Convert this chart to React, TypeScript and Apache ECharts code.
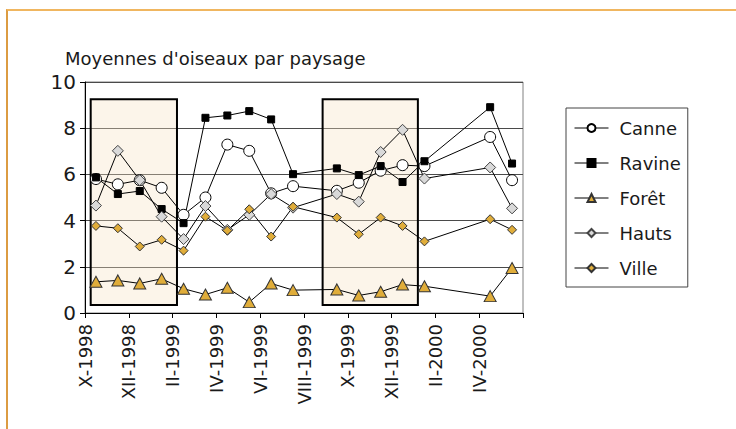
import React, { useEffect, useRef } from "react";
import * as echarts from "echarts";

const sampleMonths = [
  "1998-10", "1998-11", "1998-12", "1999-01", "1999-02", "1999-03", "1999-04",
  "1999-05", "1999-06", "1999-07", "1999-09", "1999-10", "1999-11", "1999-12",
  "2000-01", "2000-04", "2000-05",
];

const canne = [5.8, 5.57, 5.75, 5.42, 4.25, 5.0, 7.29, 7.02, 5.18, 5.49, 5.29, 5.64, 6.16, 6.4, 6.36, 7.62, 5.75];
const ravine = [5.87, 5.15, 5.28, 4.5, 3.89, 8.45, 8.55, 8.74, 8.38, 6.01, 6.26, 5.97, 6.36, 5.67, 6.57, 8.91, 6.47];
const foret = [1.35, 1.41, 1.28, 1.48, 1.05, 0.8, 1.09, 0.47, 1.28, 0.99, 1.02, 0.76, 0.92, 1.23, 1.16, 0.73, 1.95];
const hauts = [4.65, 7.02, 5.75, 4.17, 3.2, 4.63, 3.6, 4.25, 5.15, 4.56, 5.15, 4.82, 6.97, 7.93, 5.82, 6.3, 4.53];
const ville = [3.77, 3.67, 2.88, 3.17, 2.7, 4.17, 3.57, 4.49, 3.31, 4.6, 4.13, 3.41, 4.13, 3.77, 3.1, 4.06, 3.6];

const tickLabels = [
  "X-1998", "XII-1998", "II-1999", "IV-1999", "VI-1999", "VIII-1999",
  "X-1999", "XII-1999", "II-2000", "IV-2000", "",
];

// highlighted periods (month offsets from X-1998, value range)
const highlightPeriods = [
  { from: 0.26, to: 4.2, low: 0.35, high: 9.25 },
  { from: 10.85, to: 15.2, low: 0.35, high: 9.25 },
];

const title = "Moyennes d'oiseaux par paysage";
const FONT = "DejaVu Sans";
const GOLD = "#E0AD3A";
const TEXT = "#1a1a1a";

function monthIndex(s: string): number {
  const [y, m] = s.split("-").map(Number);
  return (y - 1998) * 12 + (m - 10) + 0.5;
}

function pts(vals: number[]) {
  return vals.map((v, i) => [monthIndex(sampleMonths[i]), v]);
}

export default function App() {
  const ref = useRef<HTMLDivElement>(null);
  useEffect(() => {
    if (!ref.current) return;
    const chart = echarts.init(ref.current, null, { renderer: "svg" });
    const lineStyle = { color: "#000", width: 1 };
    chart.setOption({
      animation: false,
      textStyle: { fontFamily: FONT },
      title: {
        text: title,
        left: 60,
        top: 44,
        textStyle: { fontFamily: FONT, fontSize: 18, fontWeight: "normal", color: TEXT },
      },
      grid: {
        left: 85,
        top: 82,
        right: 213,
        bottom: 116,
        show: true,
        borderColor: "#808080",
        borderWidth: 1,
        backgroundColor: "transparent",
      },
      legend: {
        orient: "vertical",
        left: 566,
        top: 108,
        padding: [10, 7, 9, 8],
        itemWidth: 34,
        itemHeight: 10,
        itemGap: 15,
        borderColor: "#444",
        borderWidth: 1,
        lineStyle: { width: 1, color: "#000" },
        textStyle: { fontFamily: FONT, fontSize: 18, color: TEXT, lineHeight: 20, padding: [0, 0, 0, 6] },
        data: ["Canne", "Ravine", "Forêt", "Hauts", "Ville"],
      },
      xAxis: {
        type: "value",
        min: 0,
        max: 20,
        interval: 2,
        axisLine: { show: true, onZero: false, lineStyle: { color: "#000", width: 1 } },
        axisTick: { show: true, length: 5, lineStyle: { color: "#000" } },
        splitLine: { show: false },
        axisLabel: {
          rotate: 90,
          fontFamily: FONT,
          fontSize: 18,
          color: TEXT,
          margin: 11,
          formatter: (v: number) => tickLabels[Math.round(v / 2)] ?? "",
        },
      },
      yAxis: {
        type: "value",
        min: 0,
        max: 10,
        interval: 2,
        axisLine: { show: true, lineStyle: { color: "#000", width: 1 } },
        axisTick: { show: true, length: 5, lineStyle: { color: "#000" } },
        splitLine: { show: true, lineStyle: { color: "#4a4a4a", width: 1 } },
        axisLabel: { fontFamily: FONT, fontSize: 20, color: TEXT, margin: 9 },
      },
      series: [
        {
          name: "_periods",
          type: "line",
          data: [],
          z: 1,
          silent: true,
          markArea: {
            silent: true,
            itemStyle: {
              color: "rgba(246,226,196,0.35)",
              borderColor: "#000",
              borderWidth: 2,
            },
            data: highlightPeriods.map((p) => [
              { coord: [p.from, p.high] },
              { coord: [p.to, p.low] },
            ]),
          },
        },
        {
          name: "Canne",
          type: "line",
          z: 3,
          data: pts(canne),
          symbol: "circle",
          symbolSize: 11,
          lineStyle,
          itemStyle: { color: "#fff", borderColor: "#000", borderWidth: 1 },
        },
        {
          name: "Ravine",
          type: "line",
          z: 3,
          data: pts(ravine),
          symbol: "rect",
          symbolSize: 7,
          lineStyle,
          itemStyle: { color: "#000", borderColor: "#000", borderWidth: 1 },
        },
        {
          name: "Forêt",
          type: "line",
          z: 3,
          data: pts(foret),
          symbol: "triangle",
          symbolSize: [12, 11],
          lineStyle,
          itemStyle: { color: GOLD, borderColor: "#333", borderWidth: 1 },
        },
        {
          name: "Hauts",
          type: "line",
          z: 3,
          data: pts(hauts),
          symbol: "diamond",
          symbolSize: 11,
          lineStyle,
          itemStyle: { color: "#d9d9d9", borderColor: "#444", borderWidth: 1 },
        },
        {
          name: "Ville",
          type: "line",
          z: 3,
          data: pts(ville),
          symbol: "diamond",
          symbolSize: 9,
          lineStyle,
          itemStyle: { color: GOLD, borderColor: "#333", borderWidth: 1 },
        },
      ],
    });
    return () => chart.dispose();
  }, []);

  return (
    <div style={{ position: "fixed", left: 0, top: 0, width: 736, height: 429, background: "#fff", overflow: "hidden" }}>
      <div
        style={{
          position: "absolute",
          left: 6,
          top: 9,
          right: -10,
          bottom: -10,
          borderTop: "2px solid #F0B660",
          borderLeft: "2px solid #DC9C42",
        }}
      />
      <div ref={ref} style={{ position: "absolute", left: 0, top: 0, width: 736, height: 429 }} />
    </div>
  );
}
